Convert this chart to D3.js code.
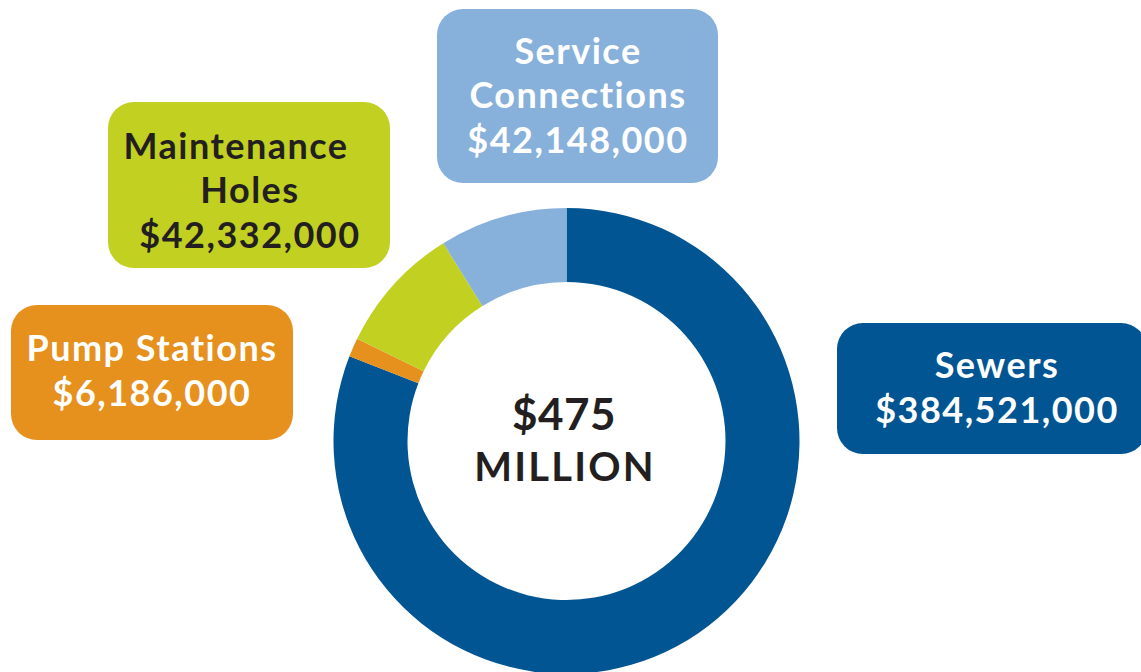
<!DOCTYPE html>
<html>
<head>
<meta charset="utf-8">
<script src="https://cdn.jsdelivr.net/npm/d3@7"></script>
<style>
  body { margin: 0; background: #fff; }
  svg { display: block; font-family: Lato, "Open Sans", sans-serif; }
</style>
</head>
<body>
<div id="chart"></div>
<script>
// data
const categories = ["Sewers", "Pump Stations", "Maintenance Holes", "Service Connections"];
const values = [384521000, 6186000, 42332000, 42148000];
const labelLines = [["Sewers"], ["Pump Stations"], ["Maintenance", "Holes"], ["Service", "Connections"]];
const totalLabel = ["$475", "MILLION"];

const colors = ["#005592", "#e6901d", "#c2d022", "#87b1da"];
const textColors = ["#fff", "#fff", "#231f20", "#fff"];

// box layout for each label (x, y, w, h, text centre x, text shift y)
const boxes = [
  { x: 837, y: 323, w: 310, h: 131, tx: 997, dy: 0 },
  { x: 11, y: 305, w: 282, h: 135, tx: 152, dy: -1 },
  { x: 108, y: 102, w: 282, h: 166, tx: 250, dy: 6 },
  { x: 437, y: 9, w: 281, h: 174, tx: 578, dy: 0 }
];

const width = 1141;
const height = 672;
const cx = 566.5, cy = 441;

const svg = d3.select("#chart")
  .append("svg")
  .attr("width", width)
  .attr("height", height);

const pie = d3.pie().sort(null).startAngle(0).endAngle(2 * Math.PI);
const arc = d3.arc().innerRadius(159).outerRadius(233);

const data = categories.map((c, i) => ({ name: c, value: values[i], i: i }));

svg.append("g")
  .attr("transform", `translate(${cx},${cy})`)
  .selectAll("path")
  .data(pie.value(d => d.value)(data))
  .enter()
  .append("path")
  .attr("d", arc)
  .attr("fill", d => colors[d.data.i]);

// center total
svg.append("text")
  .attr("x", 564).attr("y", 430)
  .attr("text-anchor", "middle")
  .attr("font-size", 44).attr("font-weight", 700)
  .attr("letter-spacing", 0.5)
  .attr("fill", "#231f20")
  .text(totalLabel[0]);
svg.append("text")
  .attr("x", 565).attr("y", 481)
  .attr("text-anchor", "middle")
  .attr("font-size", 40).attr("font-weight", 700)
  .attr("letter-spacing", 2.2)
  .attr("fill", "#231f20")
  .text(totalLabel[1]);

const fmt = d3.format("$,");

const lab = svg.selectAll(".label")
  .data(data)
  .enter()
  .append("g")
  .attr("class", "label");

lab.append("rect")
  .attr("x", d => boxes[d.i].x)
  .attr("y", d => boxes[d.i].y)
  .attr("width", d => boxes[d.i].w)
  .attr("height", d => boxes[d.i].h)
  .attr("rx", 26)
  .attr("fill", d => colors[d.i]);

const lineGap = 44.5;
lab.each(function(d) {
  const b = boxes[d.i];
  const lines = labelLines[d.i].concat([fmt(d.value)]);
  const startY = b.y + b.h / 2 - (lines.length - 1) * lineGap / 2 + 12 + b.dy;
  d3.select(this).selectAll("text")
    .data(lines)
    .enter()
    .append("text")
    .attr("x", (t, j) => b.tx + (d.i === 2 && j === 0 ? -14 : 0))
    .attr("y", (t, j) => startY + j * lineGap)
    .attr("text-anchor", "middle")
    .attr("font-size", 36)
    .attr("font-weight", 700)
    .attr("letter-spacing", 1.5)
    .attr("fill", textColors[d.i])
    .text(t => t);
});
</script>
</body>
</html>
